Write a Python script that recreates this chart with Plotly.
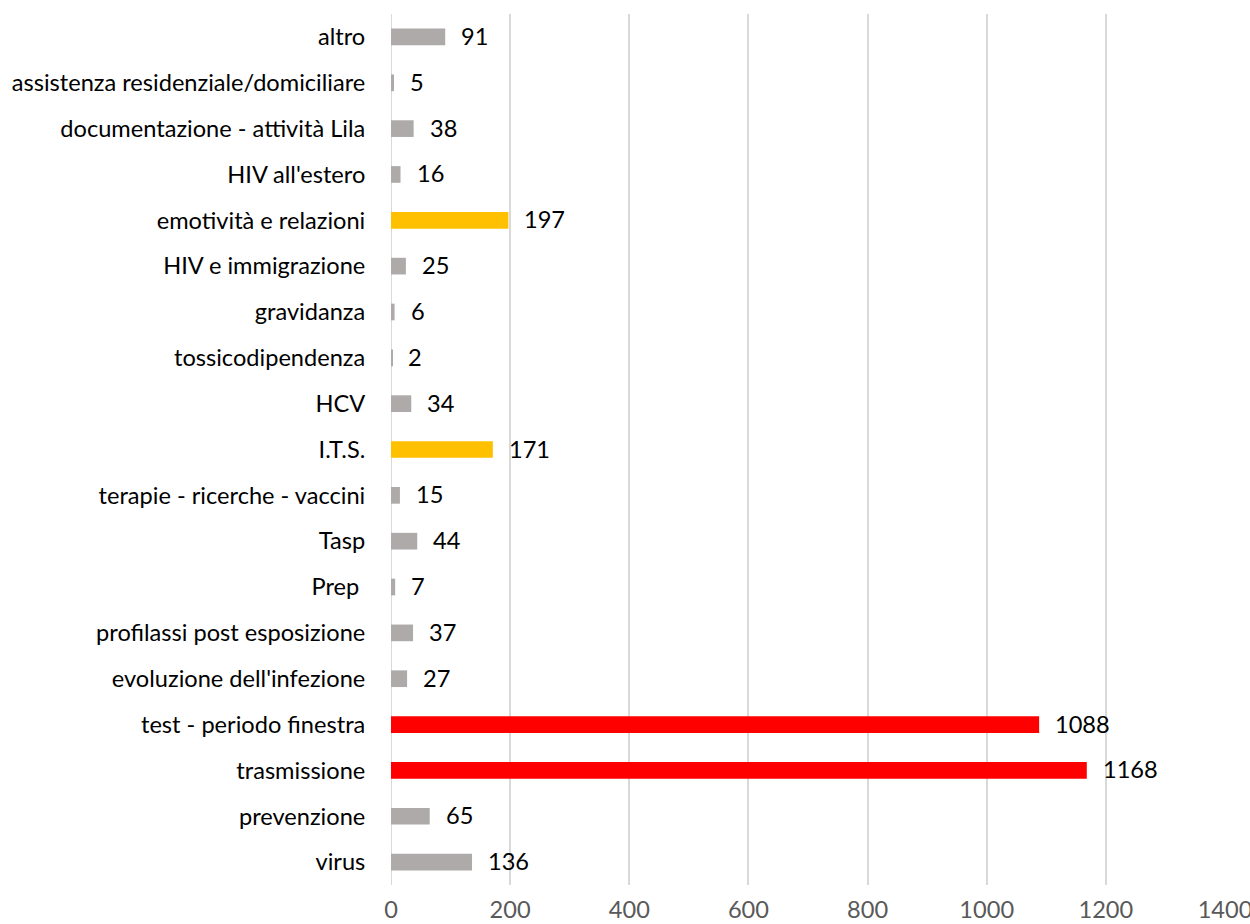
import plotly.graph_objects as go

# Topics, listed top to bottom as shown on the chart
categories = [
    "altro",
    "assistenza residenziale/domiciliare",
    "documentazione - attività Lila",
    "HIV all'estero",
    "emotività e relazioni",
    "HIV e immigrazione",
    "gravidanza",
    "tossicodipendenza",
    "HCV",
    "I.T.S.",
    "terapie - ricerche - vaccini",
    "Tasp",
    "Prep\u00a0",
    "profilassi post esposizione",
    "evoluzione dell'infezione",
    "test - periodo finestra",
    "trasmissione",
    "prevenzione",
    "virus",
]
values = [91, 5, 38, 16, 197, 25, 6, 2, 34, 171, 15, 44, 7, 37, 27, 1088, 1168, 65, 136]

# Highlight level per topic: 0 = normal, 1 = notable, 2 = main
levels = [0, 0, 0, 0, 1, 0, 0, 0, 0, 1, 0, 0, 0, 0, 0, 2, 2, 0, 0]
palette = {0: "#AEAAAA", 1: "#FFC000", 2: "#FF0000"}
bar_colors = [palette[l] for l in levels]

x_ticks = [0, 200, 400, 600, 800, 1000, 1200, 1400]

FONT = "Lato"
FSIZE = 23.6

fig = go.Figure(
    go.Bar(
        x=values,
        y=categories,
        orientation="h",
        marker=dict(color=bar_colors, line=dict(width=0)),
        hoverinfo="x+y",
    )
)

# Value labels to the right of each bar
for cat, val in zip(categories, values):
    fig.add_annotation(
        x=val,
        y=cat,
        text=str(val),
        showarrow=False,
        xanchor="left",
        yanchor="middle",
        xshift=14,
        yshift=1,
        font=dict(family=FONT, size=FSIZE, color="#000000"),
    )

fig.update_layout(
    width=1250,
    height=924,
    margin=dict(l=391, r=25, t=14, b=39),
    paper_bgcolor="white",
    plot_bgcolor="white",
    bargap=0.636,
    showlegend=False,
    font=dict(family=FONT, size=FSIZE, color="#000000"),
)

fig.update_xaxes(
    range=[0, 1400],
    tickvals=x_ticks,
    ticktext=[str(t) for t in x_ticks],
    showgrid=True,
    gridcolor="#D9D9D9",
    gridwidth=2,
    zeroline=False,
    showline=False,
    ticks="outside",
    ticklen=4,
    tickcolor="rgba(0,0,0,0)",
    tickfont=dict(family=FONT, size=FSIZE, color="#595959"),
    ticklabeloverflow="allow",
    automargin=False,
    fixedrange=True,
)

fig.update_yaxes(
    categoryorder="array",
    categoryarray=categories,
    autorange="reversed",
    showgrid=False,
    zeroline=False,
    showline=False,
    ticks="outside",
    ticklen=20,
    tickcolor="rgba(0,0,0,0)",
    tickfont=dict(family=FONT, size=FSIZE, color="#000000"),
    automargin=False,
    fixedrange=True,
)

# Vertical line at zero, same tone as the gridlines
fig.add_shape(
    type="line",
    xref="x",
    yref="paper",
    x0=0,
    x1=0,
    y0=0,
    y1=1,
    line=dict(color="#D9D9D9", width=2),
    layer="below",
)

fig.write_html("out.html")
